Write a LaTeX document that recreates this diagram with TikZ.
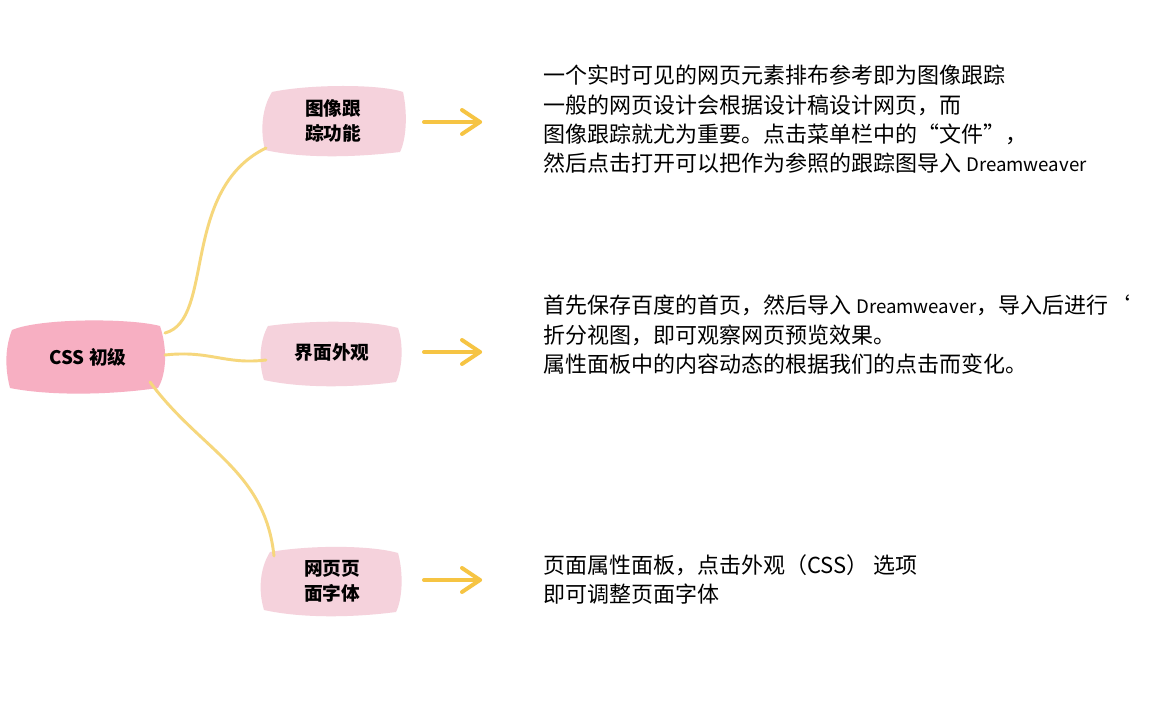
\documentclass[tikz,border=0pt]{standalone}
\usepackage{fontspec}
\setmainfont{Noto Sans CJK SC}
\begin{document}
\begin{tikzpicture}[x=0.75pt,y=-0.75pt,
  conn/.style={draw=lineY,line width=2.2pt,line cap=round},
  arr/.style={draw=arrY,line width=3pt,line cap=round,line join=round},
  lbl/.style={font=\fontsize{14pt}{19pt}\selectfont\bfseries,align=center},
  txt/.style={font=\fontsize{16.5pt}{22pt}\selectfont,align=left,anchor=north west,inner sep=0}]
\definecolor{rootP}{HTML}{F7AFC2}
\definecolor{subP}{HTML}{F5D2DC}
\definecolor{lineY}{HTML}{F6D77C}
\definecolor{arrY}{HTML}{F6C443}
\useasboundingbox (0,0) rectangle (1156,705);
\fill[white] (0,0) rectangle (1156,705);
% blobs
\fill[rootP] (12,330) .. controls (40,318) and (130,318) .. (160,326) .. controls (168,350) and (166,375) .. (158,388) .. controls (110,395) and (50,396) .. (10,388) .. controls (4,365) and (6,345) .. (12,330) -- cycle;
\fill[subP] (272,92) .. controls (310,84) and (380,84) .. (403,92) .. controls (408,115) and (406,140) .. (400,152) .. controls (350,158) and (300,158) .. (265,150) .. controls (260,130) and (262,108) .. (272,92) -- cycle;
\fill[subP] (268,326) .. controls (310,320) and (370,320) .. (398,328) .. controls (404,345) and (402,370) .. (396,382) .. controls (350,388) and (300,388) .. (264,380) .. controls (258,362) and (260,340) .. (268,326) -- cycle;
\fill[subP] (270,552) .. controls (310,545) and (370,545) .. (398,553) .. controls (404,575) and (402,600) .. (396,612) .. controls (350,618) and (300,618) .. (264,610) .. controls (258,590) and (260,568) .. (270,552) -- cycle;
\node[lbl] (root) at (88,357) {CSS 初级};
\node[lbl] (a) at (333,121) {图像跟\\踪功能};
\node[lbl] (b) at (332,352) {界面外观};
\node[lbl] (c) at (332,581) {网页页\\面字体};
% connectors
\coordinate (r1) at (165,333);
\coordinate (r2) at (165,355);
\coordinate (r3) at (150,382);
\coordinate (a1) at (266,148);
\coordinate (b1) at (266,360);
\coordinate (c1) at (274,556);
\draw[conn] (r1) .. controls (215,320) and (180,190) .. (a1);
\draw[conn] (r2) .. controls (210,350) and (225,365) .. (b1);
\draw[conn] (r3) .. controls (200,450) and (265,470) .. (c1);
% arrows
\foreach \y/\n in {122/ea,352/eb,580/ec}{
  \coordinate (\n s) at (424,\y);
  \coordinate (\n e) at (480,\y);
  \draw[arr] (\n s) -- (\n e);
  \draw[arr] (462,\y-12) -- (\n e) -- (462,\y+12);
}
% texts
\node[txt] (t1) at (543,65) {一个实时可见的网页元素排布参考即为图像跟踪\\一般的网页设计会根据设计稿设计网页，而\\图像跟踪就尤为重要。点击菜单栏中的“文件”，\\然后点击打开可以把作为参照的跟踪图导入 {\fontsize{14pt}{22pt}\selectfont Dreamweaver}};
\node[txt] (t2) at (543,295) {首先保存百度的首页，然后导入 {\fontsize{14pt}{22pt}\selectfont Dreamweaver}，导入后进行‘\\折分视图，即可观察网页预览效果。\\属性面板中的内容动态的根据我们的点击而变化。};
\node[txt] (t3) at (543,554) {页面属性面板，点击外观（CSS） 选项\\即可调整页面字体};
\end{tikzpicture}
\end{document}
